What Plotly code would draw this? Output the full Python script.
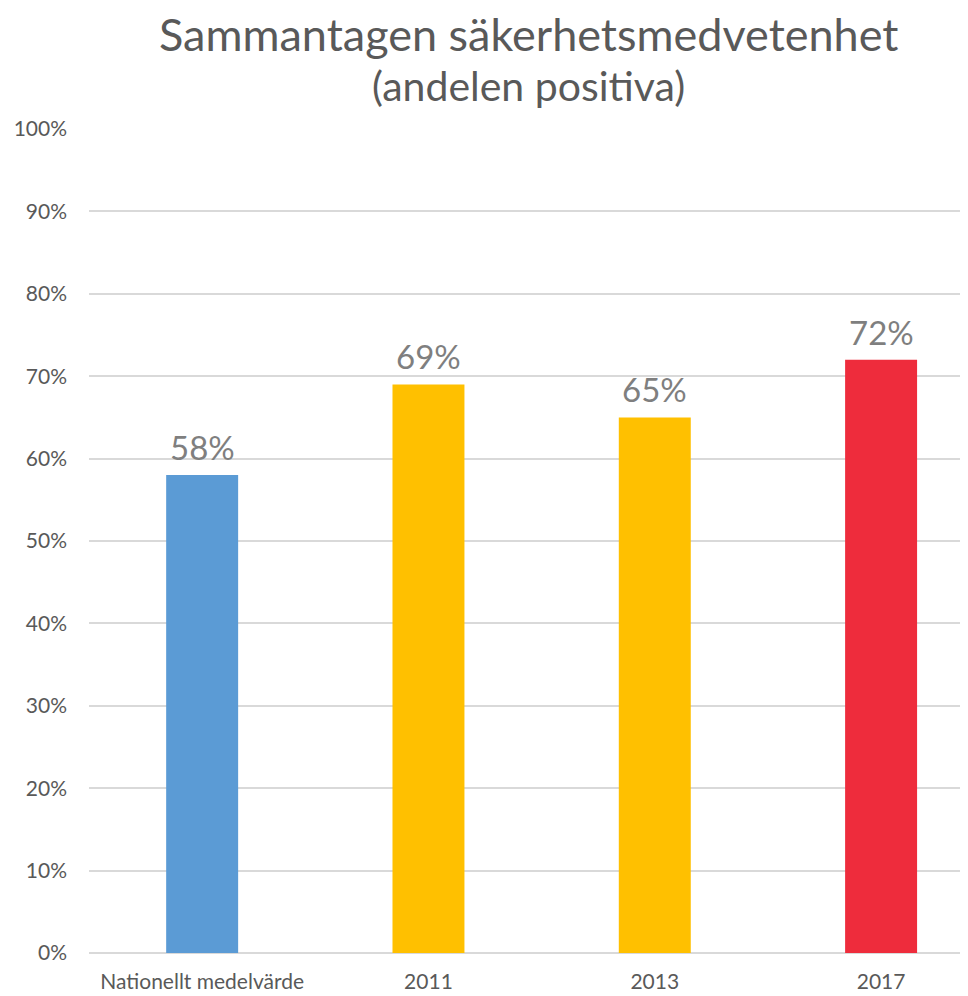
import plotly.graph_objects as go

categories = ["Nationellt medelvärde", "2011", "2013", "2017"]
values = [0.58, 0.69, 0.65, 0.72]
labels = ["58%", "69%", "65%", "72%"]
colors = ["#5B9BD5", "#FFC000", "#FFC000", "#EE2C3C"]
title_line1 = "Sammantagen säkerhetsmedvetenhet"
title_line2 = "(andelen positiva)"

FONT = "Lato, 'Open Sans', sans-serif"

# The page body adds an 8px offset, so the figure is sized 8px smaller
OFF = 8
W, H = 968 - OFF, 996 - OFF
ML, MR, MT, MB = 89 - OFF, 0, 129 - OFF, 996 - 953
plot_h = H - MT - MB
plot_w = W - ML - MR

def py(pix):
    return 1 + (MT - (pix - OFF)) / plot_h

def px(pix):
    return ((pix - OFF) - ML) / plot_w

fig = go.Figure()
fig.add_trace(go.Bar(
    x=list(range(len(categories))),
    y=values,
    width=0.318,
    marker=dict(color=colors, line=dict(width=0)),
    hoverinfo="skip",
))

annotations = [
    dict(text=title_line1, x=px(528), y=py(34), xref="paper", yref="paper",
         showarrow=False, font=dict(size=45, color="#595959", family=FONT),
         yanchor="middle", xanchor="center"),
    dict(text=title_line2, x=px(528), y=py(86), xref="paper", yref="paper",
         showarrow=False, font=dict(size=41, color="#595959", family=FONT),
         yanchor="middle", xanchor="center"),
]
for i, (v, lab) in enumerate(zip(values, labels)):
    annotations.append(dict(
        text=lab, x=i, y=v, xref="x", yref="y", showarrow=False,
        yanchor="bottom", xanchor="center", yshift=6,
        font=dict(size=33, color="#7F7F7F", family=FONT),
    ))

fig.update_layout(
    width=W, height=H,
    margin=dict(l=ML, r=MR, t=MT, b=MB),
    plot_bgcolor="white", paper_bgcolor="white",
    showlegend=False,
    font=dict(family=FONT, color="#595959", size=18),
    annotations=annotations,
)

fig.update_xaxes(
    range=[-0.5, 3.384],
    tickmode="array",
    tickvals=list(range(len(categories))),
    ticktext=categories,
    showgrid=False, zeroline=False, showline=False,
    ticks="", ticklen=0,
    tickfont=dict(size=21, color="#595959", family=FONT),
    ticklabelstandoff=14,
    automargin=False,
    fixedrange=True,
)
fig.update_yaxes(
    range=[0, 1],
    dtick=0.1,
    tickformat=".0%",
    showgrid=True, gridcolor="#D9D9D9", gridwidth=1.5,
    zeroline=True, zerolinecolor="#D9D9D9", zerolinewidth=2,
    showline=False, ticks="",
    tickfont=dict(size=21, color="#595959", family=FONT),
    ticklabelstandoff=21,
    automargin=False,
    fixedrange=True,
)

fig.write_html("out.html")
